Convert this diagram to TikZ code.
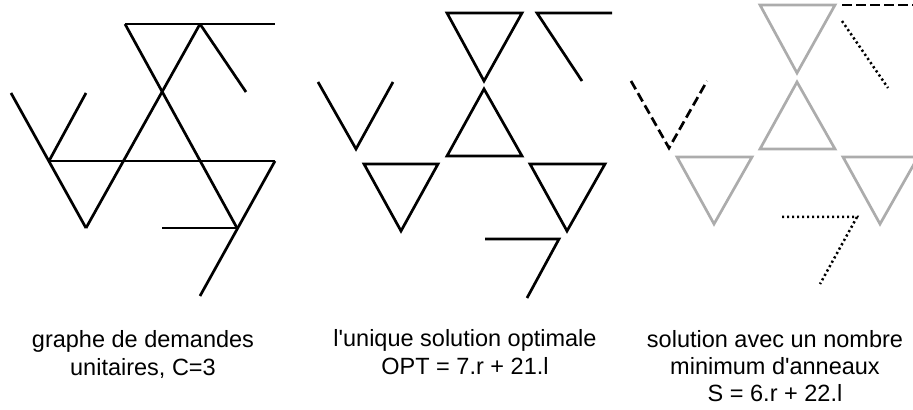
\documentclass[tikz,border=0pt]{standalone}
\usepackage{fontspec}
\setmainfont{Liberation Sans}
\usepackage{tikz}
\usetikzlibrary{calc}
\definecolor{ringgray}{RGB}{172,172,172}

\begin{document}
\begin{tikzpicture}[x=0.5pt, y=-0.5pt,
  demand/.style={line width=1.35pt, black},
  ring/.style={line width=1.35pt, black},
  oldring/.style={line width=1.35pt, ringgray},
  dashring/.style={line width=1.35pt, black, dash pattern=on 4.75pt off 2.25pt},
  dotring/.style={line width=1.25pt, black, dash pattern=on 1.1pt off 1.4pt},
  caption/.style={font=\fontsize{11.75}{13.5}\selectfont, align=center, anchor=base}]
  \useasboundingbox (0,0) rectangle (913,410);
  \clip (0,0) rectangle (913,410);
  \draw[demand] (125,24) -- (275,24);
  \draw[demand] (125,24) -- (237,228);
  \draw[demand] (200,24) -- (86,228);
  \draw[demand] (200,24) -- (246,92);
  \draw[demand] (11,93) -- (86,228);
  \draw[demand] (49,161) -- (86,93);
  \draw[demand] (49,161) -- (275,161);
  \draw[demand] (275,161) -- (200,296);
  \draw[demand] (162,228) -- (237,228);
  \draw[ring] (447,13) -- (522,13) -- (484,81) -- cycle;
  \draw[ring] (612,13) -- (537,13) -- (582,81);
  \draw[ring] (318,82) -- (356,149) -- (393,82);
  \draw[ring] (484,89) -- (522,156) -- (447,156) -- cycle;
  \draw[ring] (364,164) -- (438,164) -- (401,231) -- cycle;
  \draw[ring] (530,164) -- (605,164) -- (567,231) -- cycle;
  \draw[ring] (485,239) -- (559,239) -- (527,298);
  \draw[oldring] (760,5) -- (835,5) -- (797,73) -- cycle;
  \draw[oldring] (797,82) -- (835,149) -- (760,149) -- cycle;
  \draw[oldring] (677,157) -- (752,157) -- (714,224) -- cycle;
  \draw[oldring] (843,157) -- (918,157) -- (880,224) -- cycle;
  \draw[dashring] (842,5) -- (925,5);
  \draw[dashring] (631,81) -- (669,148) -- (707,81);
  \draw[dotring] (842,21) -- (888,88);
  \draw[dotring] (782,217) -- (857,217) -- (820,284);
  \node[caption] (capgraph) at (143,375) {graphe de demandes\\unitaires, C=3};
  \node[caption] (capopt) at (465,374) {l\textquotesingle unique solution optimale\\OPT = 7.r + 21.l};
  \node[caption] (capmin) at (775,401) {solution avec un nombre\\minimum d\textquotesingle anneaux\\S = 6.r + 22.l};
\end{tikzpicture}
\end{document}
